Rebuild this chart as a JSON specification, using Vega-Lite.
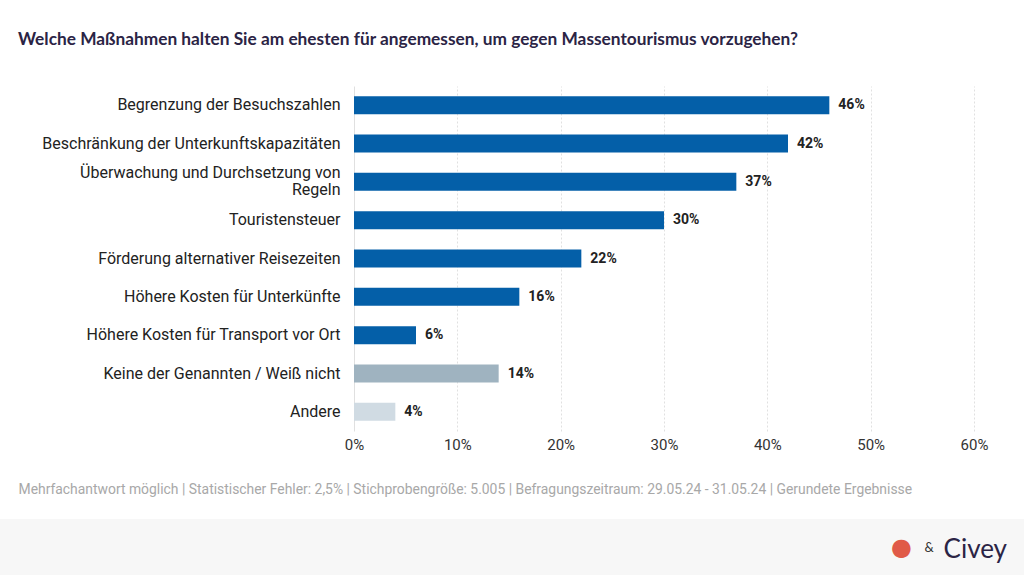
{
  "$schema": "https://vega.github.io/schema/vega-lite/v6.json",
  "padding": {"left": 0, "top": 30, "right": 0, "bottom": 0},
  "spacing": 23,
  "background": "white",
  "config": {"view": {"stroke": null}, "font": "Roboto"},
  "vconcat": [
    {
      "width": 1024,
      "height": 345,
      "title": {
        "text": "Welche Maßnahmen halten Sie am ehesten für angemessen, um gegen Massentourismus vorzugehen?",
        "anchor": "start",
        "frame": "group",
        "dx": 18,
        "offset": 38,
        "font": "Lato",
        "fontSize": 17.3,
        "fontWeight": "bold",
        "color": "#2b2445"
      },
      "data": {
        "values": [
          {"measure": "Begrenzung der Besuchszahlen", "value": 0.46, "type": "Maßnahme"},
          {"measure": "Beschränkung der Unterkunftskapazitäten", "value": 0.42, "type": "Maßnahme"},
          {"measure": "Überwachung und Durchsetzung von Regeln", "value": 0.37, "type": "Maßnahme"},
          {"measure": "Touristensteuer", "value": 0.30, "type": "Maßnahme"},
          {"measure": "Förderung alternativer Reisezeiten", "value": 0.22, "type": "Maßnahme"},
          {"measure": "Höhere Kosten für Unterkünfte", "value": 0.16, "type": "Maßnahme"},
          {"measure": "Höhere Kosten für Transport vor Ort", "value": 0.06, "type": "Maßnahme"},
          {"measure": "Keine der Genannten / Weiß nicht", "value": 0.14, "type": "Keine"},
          {"measure": "Andere", "value": 0.04, "type": "Andere"}
        ]
      },
      "encoding": {
        "y": {
          "field": "measure",
          "type": "nominal",
          "sort": null,
          "scale": {"paddingInner": 0.53, "paddingOuter": 0.265},
          "axis": {
            "title": null,
            "domain": false,
            "ticks": false,
            "labelPadding": -340,
            "labelAlign": "right",
            "labelFont": "Roboto",
            "labelFontSize": 16,
            "labelColor": "#222222",
            "labelLimit": 400,
            "labelLineHeight": 17,
            "labelOffset": {"condition": {"test": "datum.value == 'Überwachung und Durchsetzung von Regeln'", "value": -8.5}, "value": 0},
            "labelExpr": "datum.label == 'Überwachung und Durchsetzung von Regeln' ? ['Überwachung und Durchsetzung von', 'Regeln'] : datum.label"
          }
        },
        "x": {
          "field": "value",
          "type": "quantitative",
          "scale": {"domain": [0, 0.6], "range": [354, 974]},
          "axis": {
            "values": [0, 0.1, 0.2, 0.3, 0.4, 0.5, 0.6],
            "format": ".0%",
            "domain": false,
            "ticks": false,
            "grid": true,
            "gridDash": {"condition": {"test": "datum.value == 0", "value": []}, "value": [2, 2]},
            "gridColor": "#e0e0e0",
            "labelFlush": false,
            "labelFont": "Roboto",
            "labelFontSize": 15,
            "labelColor": "#333333",
            "labelPadding": 6,
            "title": "Mehrfachantwort möglich | Statistischer Fehler: 2,5% | Stichprobengröße: 5.005 | Befragungszeitraum: 29.05.24 - 31.05.24 | Gerundete Ergebnisse",
            "titleX": 18,
            "titleY": 58,
            "titleAlign": "left",
            "titleBaseline": "middle",
            "titleFont": "Roboto",
            "titleFontSize": 13.9,
            "titleFontWeight": "normal",
            "titleColor": "#a8a8a8"
          }
        }
      },
      "layer": [
        {
          "mark": {"type": "bar"},
          "encoding": {
            "color": {
              "field": "type",
              "type": "nominal",
              "scale": {"domain": ["Maßnahme", "Keine", "Andere"], "range": ["#045fa8", "#9fb3c0", "#d0dbe3"]},
              "legend": null
            }
          }
        },
        {
          "mark": {"type": "text", "align": "left", "dx": 9, "font": "Roboto", "fontSize": 14, "fontWeight": "bold", "color": "#222222"},
          "encoding": {
            "text": {"field": "value", "type": "quantitative", "format": ".0%"}
          }
        }
      ]
    },
    {
      "width": 1024,
      "height": 57,
      "view": {"fill": "#f7f7f7", "stroke": null},
      "title": {
        "text": "Civey",
        "anchor": "end",
        "frame": "group",
        "orient": "top",
        "offset": -44,
        "dx": -17,
        "font": "Lato",
        "fontSize": 26,
        "fontWeight": "normal",
        "color": "#2b2445"
      },
      "data": {"values": [{"sep": "&", "logo": "●"}]},
      "mark": {"type": "point", "opacity": 0},
      "encoding": {
        "y": {
          "field": "sep",
          "type": "nominal",
          "axis": {
            "orient": "right",
            "title": null,
            "domain": false,
            "ticks": false,
            "labelPadding": -100,
            "labelAlign": "left",
            "labelFont": "Lato",
            "labelFontSize": 13,
            "labelColor": "#333333"
          }
        },
        "x": {
          "field": "logo",
          "type": "nominal",
          "axis": {
            "orient": "bottom",
            "title": null,
            "domain": false,
            "ticks": false,
            "labelAngle": 0,
            "labelOffset": 389,
            "labelPadding": -29,
            "labelBaseline": "middle",
            "labelFont": "DejaVu Sans",
            "labelFontSize": 24,
            "labelColor": "#e05a48"
          }
        }
      }
    }
  ]
}
